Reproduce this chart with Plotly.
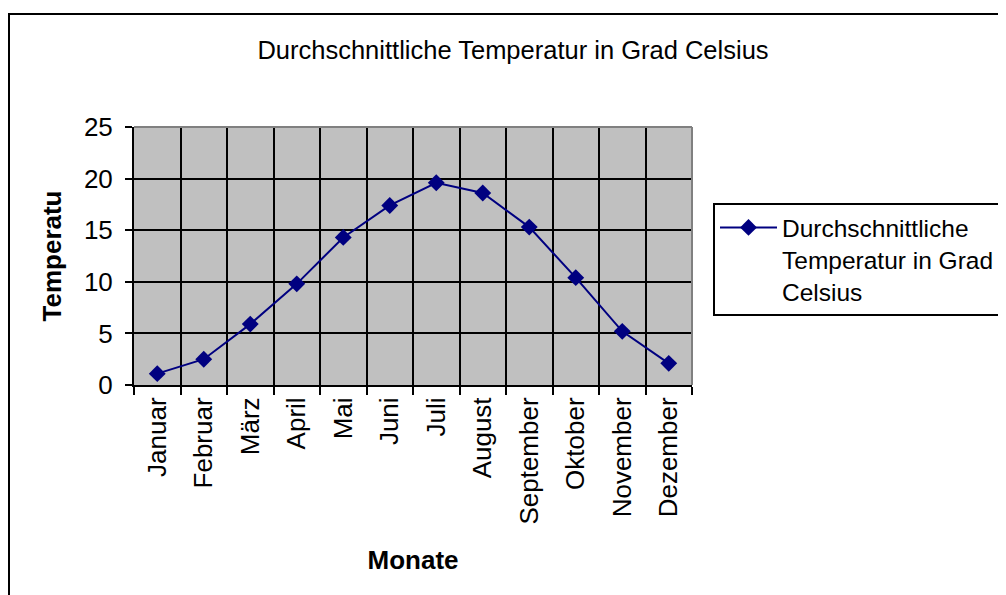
import plotly.graph_objects as go

months = ["Januar", "Februar", "März", "April", "Mai", "Juni", "Juli",
          "August", "September", "Oktober", "November", "Dezember"]
temps = [1.1, 2.5, 5.9, 9.8, 14.3, 17.4, 19.6, 18.6, 15.3, 10.4, 5.2, 2.1]
series_name = "Durchschnittliche<br>Temperatur in Grad<br>Celsius"
title_text = "Durchschnittliche Temperatur in Grad Celsius"
y_title = "Temperatu"
x_title = "Monate"

OFF = 8  # page body margin
W, H = 1006 - OFF, 595 - OFF
L, R, T, B = 134 - OFF, 692 - OFF, 127 - OFF, 385 - OFF
pw, ph = R - L, B - T

def px_x(x):
    return (x - OFF - L) / pw

def px_y(y):
    return (B - (y - OFF)) / ph

FONT = "Liberation Sans, Arial, sans-serif"
FS = 26

fig = go.Figure()
fig.add_trace(go.Scatter(
    x=months, y=temps, name=series_name, mode="lines+markers",
    line=dict(color="#000080", width=2),
    marker=dict(symbol="diamond", size=13, color="#000080"),
    showlegend=True,
))

fig.update_layout(
    width=W, height=H,
    margin=dict(l=L, r=W - R, t=T, b=H - B, pad=0, autoexpand=False),
    paper_bgcolor="white", plot_bgcolor="#C0C0C0",
    font=dict(family=FONT, size=FS, color="black"),
    title=dict(text=title_text, x=(513 - OFF) / W, xref="container", xanchor="center",
               y=1 - (50 - OFF) / H, yref="container", yanchor="middle",
               font=dict(size=25.5, family=FONT, color="black")),
    legend=dict(x=(713 - OFF) / W, y=1 - (203 - OFF) / H, xref="container", yref="container",
                xanchor="left", yanchor="top",
                bordercolor="black", borderwidth=2, bgcolor="white",
                font=dict(size=24.5, family=FONT, color="black"),
                valign="top", itemwidth=57),
    showlegend=True,
)

fig.update_xaxes(
    type="category", range=[-0.5, 11.5], tickson="boundaries",
    showgrid=True, gridcolor="black", gridwidth=2,
    showline=True, linecolor="black", linewidth=2,
    ticks="outside", ticklen=8, tickwidth=2, tickcolor="black",
    tickangle=-90, tickfont=dict(size=FS, family=FONT),
    title=dict(text="<b>" + x_title + "</b>", font=dict(size=FS, family=FONT), standoff=27),
    fixedrange=True, zeroline=False,
)
fig.update_yaxes(
    range=[0, 25], dtick=5, tick0=0,
    showgrid=True, gridcolor="black", gridwidth=2,
    showline=True, linecolor="black", linewidth=2,
    ticks="outside", ticklen=7, tickwidth=2, tickcolor="black",
    tickfont=dict(size=FS, family=FONT), ticklabelstandoff=7,
    title=dict(text="<b>" + y_title + "</b>", font=dict(size=FS, family=FONT), standoff=15),
    zeroline=False, fixedrange=True,
)

# gray top and right border of plot area
fig.add_shape(type="line", xref="paper", yref="paper", x0=0, x1=1, y0=1, y1=1,
              line=dict(color="#808080", width=2), layer="above")
fig.add_shape(type="line", xref="paper", yref="paper", x0=1, x1=1, y0=0, y1=1,
              line=dict(color="#808080", width=2), layer="above")
# outer chart frame
fig.add_shape(type="rect", xref="paper", yref="paper",
              x0=px_x(9), x1=px_x(1020), y0=px_y(610), y1=px_y(14),
              line=dict(color="black", width=2), fillcolor="rgba(0,0,0,0)", layer="below")

fig.write_html("out.html")
